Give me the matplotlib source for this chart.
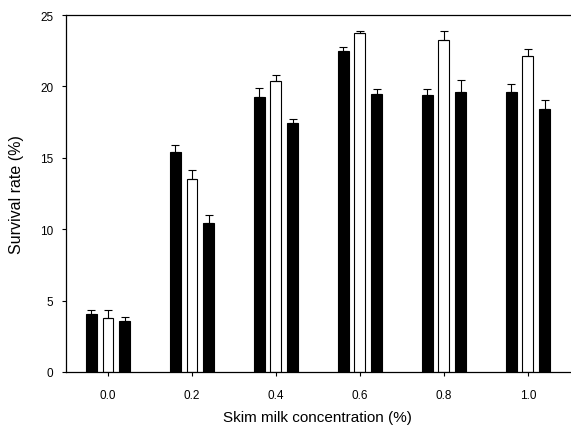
import matplotlib.pyplot as plt
import numpy as np

plt.rcParams['font.family'] = ['Liberation Sans', 'DejaVu Sans']

# skim milk concentrations (%)
concentrations = ['0.0', '0.2', '0.4', '0.6', '0.8', '1.0']

# survival rate (%) for the three treatments at each concentration
series1 = [4.06, 15.43, 19.24, 22.50, 19.40, 19.63]
series2 = [3.78, 13.49, 20.36, 23.72, 23.27, 22.15]
series3 = [3.57, 10.41, 17.44, 19.47, 19.59, 18.42]

# standard errors (upper bars only)
err1 = [0.28, 0.47, 0.63, 0.24, 0.42, 0.54]
err2 = [0.54, 0.63, 0.44, 0.18, 0.63, 0.47]
err3 = [0.28, 0.59, 0.28, 0.35, 0.88, 0.61]

fig = plt.figure(figsize=(5.71, 4.27), dpi=100)
ax = fig.add_axes([0.1156, 0.1265, 0.8824, 0.836])

x = np.arange(len(concentrations))
w = 0.13
off = 0.2
colors = ['black', 'white', 'black']
for i, (vals, errs) in enumerate(zip([series1, series2, series3], [err1, err2, err3])):
    ax.bar(x + (i - 1) * off, vals, width=w, color=colors[i], edgecolor='black',
           linewidth=0.8, yerr=[np.zeros(len(errs)), errs],
           error_kw=dict(ecolor='black', elinewidth=0.8, capsize=3, capthick=0.8))

ax.set_xlim(-0.5, 5.5)
ax.set_ylim(0, 25)
ax.set_yticks([0, 5, 10, 15, 20, 25])
ax.set_xticks(x)
ax.set_xticklabels(concentrations)
ax.tick_params(axis='both', direction='out', length=3, width=0.8, labelsize=8.5, pad=6)
ax.tick_params(axis='x', pad=9)
ax.spines['right'].set_visible(False)
for s in ['left', 'bottom', 'top']:
    ax.spines[s].set_linewidth(0.9)

ax.set_xlabel('Skim milk concentration (%)', fontsize=11, labelpad=7)
ax.set_ylabel('Survival rate (%)', fontsize=11.5, labelpad=12)

fig.savefig('out.png', dpi=100)
